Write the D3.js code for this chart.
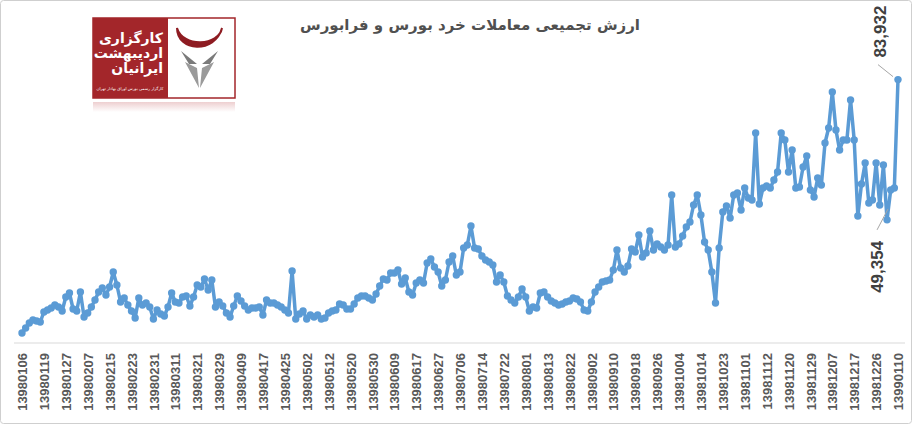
<!DOCTYPE html>
<html>
<head>
<meta charset="utf-8">
<script src="https://cdn.jsdelivr.net/npm/d3@7"></script>
<style>
  body { margin: 0; background: #fff; }
  svg { display: block; }
</style>
</head>
<body>
<svg></svg>
<script>
const svgWidth = 912;
const svgHeight = 424;

// daily cumulative retail trading value (one value per trading day)
const values = [
  21465, 22698, 23930, 24670, 24423, 24177, 26642, 27135, 27628, 28367,
  27874, 26888, 30339, 31325, 27381, 26888, 31572, 25409, 26395, 27874,
  29600, 31572, 32558, 30832, 32804, 36502, 33297, 29107, 30093, 28367,
  26888, 25163, 30093, 28367, 28860, 27874, 24916, 27135, 26149, 25656,
  27874, 31325, 29107, 28860, 30339, 30586, 28121, 30339, 33297, 32804,
  34776, 32065, 34530, 27874, 29107, 28121, 26395, 25409, 28121, 30586,
  29353, 28121, 27135, 27628, 27628, 27874, 25902, 29600, 28860, 28860,
  28367, 27874, 27135, 26395, 36748, 24916, 26149, 26888, 24916, 25902,
  25409, 25902, 24916, 25163, 26395, 26888, 27135, 28614, 28367, 27381,
  27381, 28614, 30093, 30586, 30586, 30093, 29600, 31079, 33051, 34776,
  34530, 36255, 36255, 36995, 33544, 35023, 31572, 30832, 33790, 34530,
  33790, 38720, 39706, 37734, 36502, 33051, 34530, 38967, 40446, 35762,
  36502, 42418, 43157, 47841, 42418, 42171, 40446, 39460, 38967, 38227,
  34037, 35762, 34037, 30586, 29600, 28860, 30339, 32311, 30339, 26888,
  27874, 27628, 31325, 31572, 30339, 29353, 28860, 28367, 28614, 29107,
  29353, 30093, 29846, 29107, 27135, 26888, 29107, 31572, 32804, 34037,
  34283, 34530, 36995, 41925, 37488, 36502, 37981, 42171, 41432, 45623,
  40200, 41185, 46610, 41925, 43404, 42665, 41925, 43157, 55485, 42665,
  43404, 45377, 47595, 48829, 53020, 55485, 50555, 43900, 41925, 36502,
  28860, 42418, 51295, 52775, 49815, 55485, 55975, 51785, 57210, 54745,
  54250, 70765, 53265, 57210, 57700, 57210, 59180, 61150, 70765, 69040,
  61150, 66575, 57210, 57455, 62385, 65100, 56715, 54990, 59675, 57950,
  68300, 72000, 80870, 71505, 66575, 69040, 69040, 78900, 69040, 50305,
  58195, 63370, 53510, 54250, 63370, 53020, 62880, 49354, 56715, 57210,
  83932
];

// category labels shown on the axis (every 6th trading day)
const tickLabels = [
  "13980106", "13980119", "13980127", "13980207", "13980215", "13980223",
  "13980231", "13980311", "13980321", "13980329", "13980409", "13980417",
  "13980425", "13980502", "13980512", "13980520", "13980530", "13980609",
  "13980617", "13980627", "13980706", "13980714", "13980722", "13980801",
  "13980813", "13980822", "13980902", "13980910", "13980918", "13980926",
  "13981004", "13981014", "13981023", "13981101", "13981112", "13981120",
  "13981129", "13981207", "13981217", "13981226", "13990110"
];
const tickStep = 6;

// labelled points: last value and the low just before it
const callouts = [
  { index: 240, text: "83,932" },
  { index: 237, text: "49,354" }
];

const title = "ارزش تجمیعی معاملات خرد بورس و فرابورس";

const lineColor = "#5b9bd5";
const textColor = "#595959";

const svg = d3.select("svg")
  .attr("width", svgWidth)
  .attr("height", svgHeight);

// frame
svg.append("rect")
  .attr("x", 0.5).attr("y", 0.5)
  .attr("width", svgWidth - 1).attr("height", svgHeight - 1)
  .attr("rx", 3)
  .attr("fill", "#fff")
  .attr("stroke", "#cfcfcf");

const x = d3.scaleLinear()
  .domain([0, values.length - 1])
  .range([22, 898]);

const y = d3.scaleLinear()
  .domain([19000, 90000])
  .range([343, 55]);

// title
svg.append("text")
  .attr("x", 470)
  .attr("y", 30)
  .attr("text-anchor", "middle")
  .attr("direction", "rtl")
  .attr("font-family", "DejaVu Sans, Noto Sans, sans-serif")
  .attr("font-weight", "bold")
  .attr("font-size", 15)
  .attr("fill", "#505050")
  .text(title);

// x axis
const tickIdx = tickLabels.map((d, i) => i * tickStep);
const xAxis = d3.axisBottom(x)
  .tickValues(tickIdx)
  .tickSize(0)
  .tickFormat((d, i) => tickLabels[i]);

const gx = svg.append("g")
  .attr("transform", "translate(0,343)")
  .call(xAxis);

gx.select(".domain")
  .attr("d", "M-4,0H" + (905 - 18))
  .attr("transform", "translate(18,0)")
  .attr("stroke", "#d9d9d9");

gx.selectAll("text")
  .attr("font-family", "Liberation Sans, Arial, sans-serif")
  .attr("font-weight", "bold")
  .attr("font-size", 13)
  .attr("fill", textColor)
  .attr("text-anchor", "end")
  .attr("x", 0)
  .attr("y", 0)
  .attr("dy", "0.36em")
  .attr("transform", "translate(0,10) rotate(-90)");

// line + markers
const line = d3.line()
  .x((d, i) => x(i))
  .y(d => y(d));

svg.append("path")
  .datum(values)
  .attr("fill", "none")
  .attr("stroke", lineColor)
  .attr("stroke-width", 3.5)
  .attr("stroke-linejoin", "round")
  .attr("d", line);

svg.selectAll("circle.pt")
  .data(values)
  .enter()
  .append("circle")
  .attr("class", "pt")
  .attr("cx", (d, i) => x(i))
  .attr("cy", d => y(d))
  .attr("r", 3.7)
  .attr("fill", lineColor);

// callouts
callouts.forEach(function(c, k) {
  const px = x(c.index);
  const py = y(values[c.index]);
  const g = svg.append("g");
  if (k === 0) {
    g.append("line")
      .attr("x1", px - 5).attr("y1", py - 3)
      .attr("x2", px - 20).attr("y2", py - 15)
      .attr("stroke", "#a6a6a6");
    g.append("text")
      .attr("transform", "translate(" + (px - 12) + "," + (py - 22) + ") rotate(-90)")
      .attr("font-family", "Liberation Sans, Arial, sans-serif")
      .attr("font-weight", "bold")
      .attr("font-size", 17)
      .attr("fill", "#404040")
      .text(c.text);
  } else {
    g.append("line")
      .attr("x1", px + 1).attr("y1", py - 11)
      .attr("x2", px - 10).attr("y2", py + 10)
      .attr("stroke", "#a6a6a6");
    g.append("text")
      .attr("transform", "translate(" + (px - 4) + "," + (py + 73) + ") rotate(-90)")
      .attr("font-family", "Liberation Sans, Arial, sans-serif")
      .attr("font-weight", "bold")
      .attr("font-size", 17)
      .attr("fill", "#404040")
      .text(c.text);
  }
});

// logo
const logo = svg.append("g").attr("transform", "translate(93,18)");
const defs = svg.append("defs");
const grad = defs.append("linearGradient")
  .attr("id", "refl").attr("x1", 0).attr("y1", 0).attr("x2", 0).attr("y2", 1);
grad.append("stop").attr("offset", 0).attr("stop-color", "#e9c3c4");
grad.append("stop").attr("offset", 1).attr("stop-color", "#ffffff");

logo.append("rect")
  .attr("x", 0).attr("y", 84).attr("width", 142).attr("height", 10)
  .attr("fill", "url(#refl)").attr("opacity", 0.8);
logo.append("rect")
  .attr("x", 0).attr("y", 0).attr("width", 142).attr("height", 80)
  .attr("fill", "#fff").attr("stroke", "#a3262a").attr("stroke-width", 1.5);
logo.append("rect")
  .attr("x", 0).attr("y", 0).attr("width", 75).attr("height", 80)
  .attr("fill", "#a3262a");

["کارگزاری", "اردیبهشت", "ایرانیان"].forEach(function(t, i) {
  logo.append("text")
    .attr("x", 70)
    .attr("y", 25 + i * 15)
    .attr("text-anchor", "start")
    .attr("direction", "rtl")
    .attr("font-family", "DejaVu Sans, sans-serif")
    .attr("font-weight", "bold")
    .attr("font-size", 14)
    .attr("fill", "#fff")
    .text(t);
});
logo.append("text")
  .attr("x", 37).attr("y", 72)
  .attr("text-anchor", "middle")
  .attr("direction", "rtl")
  .attr("font-family", "DejaVu Sans, sans-serif")
  .attr("font-size", 4)
  .attr("fill", "#fff")
  .text("کارگزار رسمی بورس اوراق بهادار تهران");

// bull mark
logo.append("path")
  .attr("d", "M84,10 C84,34 122,36 129,10 C126,28 90,30 84,10 Z")
  .attr("fill", "#8e1c22")
  .attr("stroke", "#8e1c22")
  .attr("stroke-width", 2);
logo.append("path")
  .attr("d", "M88,33 L104,46 L96,46 Z M125,33 L109,46 L117,46 Z")
  .attr("fill", "#7a7a7a");
logo.append("path")
  .attr("d", "M92,44 L104,50 L106,70 Z M121,44 L109,50 L107,70 Z")
  .attr("fill", "#9a9a9a");
</script>
</body>
</html>
